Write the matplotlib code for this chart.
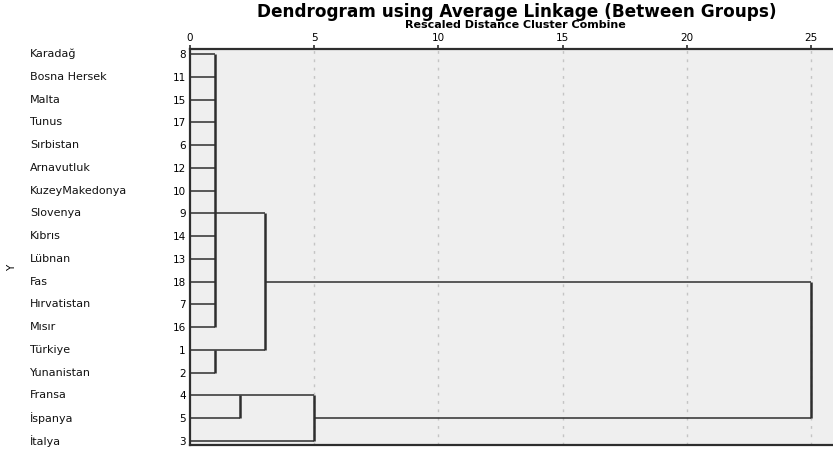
import matplotlib.pyplot as plt

# leaves in display order (top -> bottom)
countries = ['Karadağ', 'Bosna Hersek', 'Malta', 'Tunus', 'Sırbistan', 'Arnavutluk',
             'KuzeyMakedonya', 'Slovenya', 'Kıbrıs', 'Lübnan', 'Fas', 'Hırvatistan',
             'Mısır', 'Türkiye', 'Yunanistan', 'Fransa', 'İspanya', 'İtalya']
case_ids = [8, 11, 15, 17, 6, 12, 10, 9, 14, 13, 18, 7, 16, 1, 2, 4, 5, 3]

# merges: children are leaf rows (int) or earlier merge ids ('c0', ...)
merge_children = [list(range(13)), [13, 14], [15, 16], ['c0', 'c1'], ['c2', 17], ['c3', 'c4']]
merge_dist = [1, 1, 2, 3, 5, 25]
merge_row = [7, 13, 15, 10, 16, 13]   # row where the cluster's line leaves (SPSS style)

x_ticks = [0, 5, 10, 15, 20, 25]

plt.rcParams['font.family'] = ['DejaVu Sans']

fig = plt.figure(figsize=(8.33, 4.54), dpi=100)
ax = fig.add_axes([190/833, 1-445/454, 643/833, 396/454])
ax.set_facecolor('#efefef')

line_col = '#2e2e2e'

def child_pos(c):
    if isinstance(c, str):
        k = int(c[1:])
        return merge_row[k], merge_dist[k]
    return c, 0

for k, children in enumerate(merge_children):
    rows = []
    for c in children:
        r, x0 = child_pos(c)
        rows.append(r)
        ax.plot([x0, merge_dist[k]], [r, r], color=line_col, lw=1.1, solid_capstyle='butt', zorder=3)
    ax.plot([merge_dist[k], merge_dist[k]], [min(rows), max(rows)], color=line_col, lw=1.8,
            solid_capstyle='butt', zorder=3)

for xt in x_ticks[1:]:
    ax.axvline(xt, color='#c4c4c4', lw=1, ls=(0, (2, 4)), zorder=1)

ax.set_xlim(0, (833-190)/24.84)
ax.set_ylim(17.18, -0.22)

ax.xaxis.tick_top()
ax.set_xticks(x_ticks)
ax.set_xticklabels([str(v) for v in x_ticks], fontsize=7.5)
ax.tick_params(axis='x', direction='out', length=3, width=1.2, color=line_col, pad=1.5)

ax.set_yticks(range(len(case_ids)))
ax.set_yticklabels([str(v) for v in case_ids], fontsize=7.5)
ax.tick_params(axis='y', length=0, pad=3)

for i, name in enumerate(countries):
    ax.text(-0.2488, i, name, transform=ax.get_yaxis_transform(), ha='left', va='center',
            fontsize=8, color='#111111')

fig.text(12/833, 1-268/454, 'Y', rotation=90, ha='center', va='center', fontsize=7.5)

for s in ['top', 'left', 'bottom']:
    ax.spines[s].set_color(line_col)
    ax.spines[s].set_linewidth(1.6)
ax.spines['right'].set_visible(False)

fig.text(517/833, 1-12/454, 'Dendrogram using Average Linkage (Between Groups)',
         ha='center', va='center', fontsize=12.2, fontweight='bold')
fig.text(515/833, 1-24.5/454, 'Rescaled Distance Cluster Combine',
         ha='center', va='center', fontsize=8, fontweight='bold')

fig.savefig('out.png', dpi=100)
